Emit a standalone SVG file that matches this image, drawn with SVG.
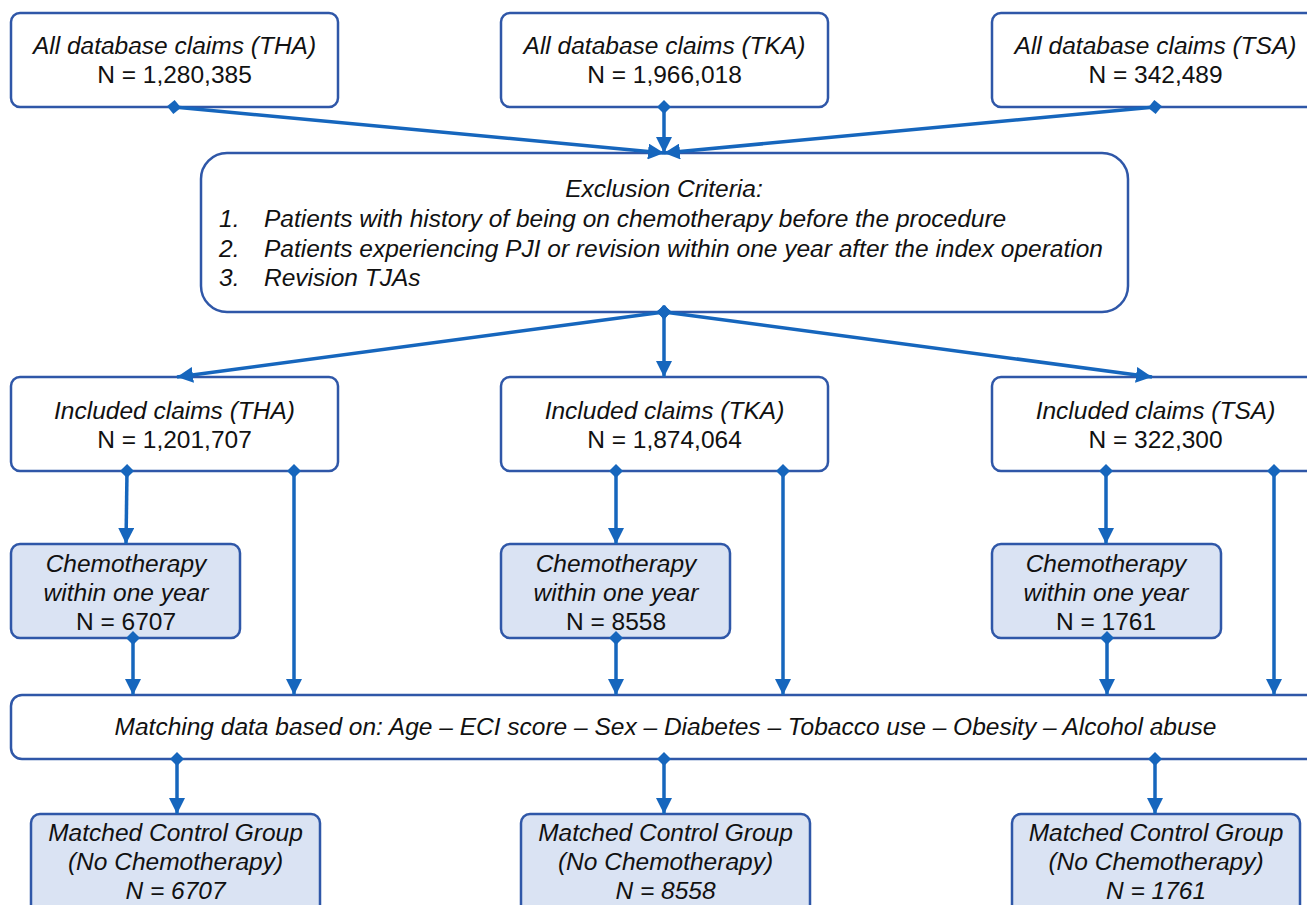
<svg xmlns="http://www.w3.org/2000/svg" width="1307" height="905" viewBox="0 0 1307 905">
<style>
.box{fill:#ffffff;stroke:#2f57a8;stroke-width:2.5}
.blue{fill:#dae3f3;stroke:#2f57a8;stroke-width:2.5}
text{font-family:"Liberation Sans",Arial,sans-serif;font-size:24.5px;fill:#111111}
.c{text-anchor:middle}
.i{font-style:italic}
.con{stroke:#1666bd;stroke-width:3.5;fill:none;marker-start:url(#dia);marker-end:url(#arr)}
</style>
<defs>
<marker id="arr" markerUnits="userSpaceOnUse" markerWidth="18" markerHeight="16" refX="16" refY="8" orient="auto">
<path d="M0,0 L16,8 L0,16 z" fill="#1666bd"/>
</marker>
<marker id="dia" markerUnits="userSpaceOnUse" markerWidth="14" markerHeight="14" refX="7" refY="7" orient="auto">
<path d="M0,7 L7,0 L14,7 L7,14 z" fill="#1666bd"/>
</marker>
</defs>

<g id="all-tha">
<rect class="box" x="11" y="13" width="327" height="94" rx="9"/>
<text class="c i" x="174.5" y="54">All database claims (THA)</text>
<text class="c" x="174.5" y="83">N = 1,280,385</text>
</g>
<g id="all-tka">
<rect class="box" x="501" y="13" width="327" height="94" rx="9"/>
<text class="c i" x="664.5" y="54">All database claims (TKA)</text>
<text class="c" x="664.5" y="83">N = 1,966,018</text>
</g>
<g id="all-tsa">
<rect class="box" x="992" y="13" width="327" height="94" rx="9"/>
<text class="c i" x="1155.5" y="54">All database claims (TSA)</text>
<text class="c" x="1155.5" y="83">N = 342,489</text>
</g>

<g id="exclusion">
<rect class="box" x="201" y="153" width="927" height="159" rx="26"/>
<text class="c i" x="664" y="197">Exclusion Criteria:</text>
<text class="i" x="219" y="227">1.</text>
<text class="i" x="264" y="227">Patients with history of being on chemotherapy before the procedure</text>
<text class="i" x="219" y="257">2.</text>
<text class="i" x="264" y="257">Patients experiencing PJI or revision within one year after the index operation</text>
<text class="i" x="219" y="286">3.</text>
<text class="i" x="264" y="286">Revision TJAs</text>
</g>

<g id="inc-tha">
<rect class="box" x="11" y="377" width="327" height="94" rx="9"/>
<text class="c i" x="174.5" y="419">Included claims (THA)</text>
<text class="c" x="174.5" y="448">N = 1,201,707</text>
</g>
<g id="inc-tka">
<rect class="box" x="501" y="377" width="327" height="94" rx="9"/>
<text class="c i" x="664.5" y="419">Included claims (TKA)</text>
<text class="c" x="664.5" y="448">N = 1,874,064</text>
</g>
<g id="inc-tsa">
<rect class="box" x="992" y="377" width="327" height="94" rx="9"/>
<text class="c i" x="1155.5" y="419">Included claims (TSA)</text>
<text class="c" x="1155.5" y="448">N = 322,300</text>
</g>

<g id="chemo-tha">
<rect class="blue" x="11" y="544" width="229" height="94" rx="9"/>
<text class="c i" x="126" y="572">Chemotherapy</text>
<text class="c i" x="126" y="601">within one year</text>
<text class="c" x="126" y="630">N = 6707</text>
</g>
<g id="chemo-tka">
<rect class="blue" x="501" y="544" width="229" height="94" rx="9"/>
<text class="c i" x="616" y="572">Chemotherapy</text>
<text class="c i" x="616" y="601">within one year</text>
<text class="c" x="616" y="630">N = 8558</text>
</g>
<g id="chemo-tsa">
<rect class="blue" x="992" y="544" width="229" height="94" rx="9"/>
<text class="c i" x="1106" y="572">Chemotherapy</text>
<text class="c i" x="1106" y="601">within one year</text>
<text class="c" x="1106" y="630">N = 1761</text>
</g>

<g id="matching">
<rect class="box" x="11" y="695" width="1308" height="64" rx="11"/>
<text class="c i" x="665.5" y="735">Matching data based on: Age – ECI score – Sex – Diabetes – Tobacco use – Obesity – Alcohol abuse</text>
</g>

<g id="ctrl-tha">
<rect class="blue" x="31" y="814" width="289" height="110" rx="9"/>
<text class="c i" x="175.5" y="841">Matched Control Group</text>
<text class="c i" x="175.5" y="870">(No Chemotherapy)</text>
<text class="c i" x="175.5" y="899">N = 6707</text>
</g>
<g id="ctrl-tka">
<rect class="blue" x="521" y="814" width="289" height="110" rx="9"/>
<text class="c i" x="665.5" y="841">Matched Control Group</text>
<text class="c i" x="665.5" y="870">(No Chemotherapy)</text>
<text class="c i" x="665.5" y="899">N = 8558</text>
</g>
<g id="ctrl-tsa">
<rect class="blue" x="1012" y="814" width="288" height="110" rx="9"/>
<text class="c i" x="1156" y="841">Matched Control Group</text>
<text class="c i" x="1156" y="870">(No Chemotherapy)</text>
<text class="c i" x="1156" y="899">N = 1761</text>
</g>

<g id="connectors">
<line class="con" x1="174" y1="107" x2="664" y2="153"/>
<line class="con" x1="664" y1="107" x2="664" y2="153"/>
<line class="con" x1="1155" y1="107" x2="664" y2="153"/>
<line class="con" x1="664" y1="312" x2="177" y2="377"/>
<line class="con" x1="664" y1="312" x2="664" y2="377"/>
<line class="con" x1="664" y1="312" x2="1152" y2="377"/>
<line class="con" x1="127" y1="471" x2="126" y2="544"/>
<line class="con" x1="294" y1="471" x2="294" y2="695"/>
<line class="con" x1="133" y1="638" x2="133" y2="695"/>
<line class="con" x1="616" y1="471" x2="616" y2="544"/>
<line class="con" x1="783" y1="471" x2="783" y2="695"/>
<line class="con" x1="616" y1="638" x2="616" y2="695"/>
<line class="con" x1="1106" y1="471" x2="1106" y2="544"/>
<line class="con" x1="1274" y1="471" x2="1274" y2="695"/>
<line class="con" x1="1107" y1="638" x2="1107" y2="695"/>
<line class="con" x1="177" y1="759" x2="177" y2="814"/>
<line class="con" x1="664" y1="759" x2="664" y2="814"/>
<line class="con" x1="1155" y1="759" x2="1155" y2="814"/>
</g>
</svg>
